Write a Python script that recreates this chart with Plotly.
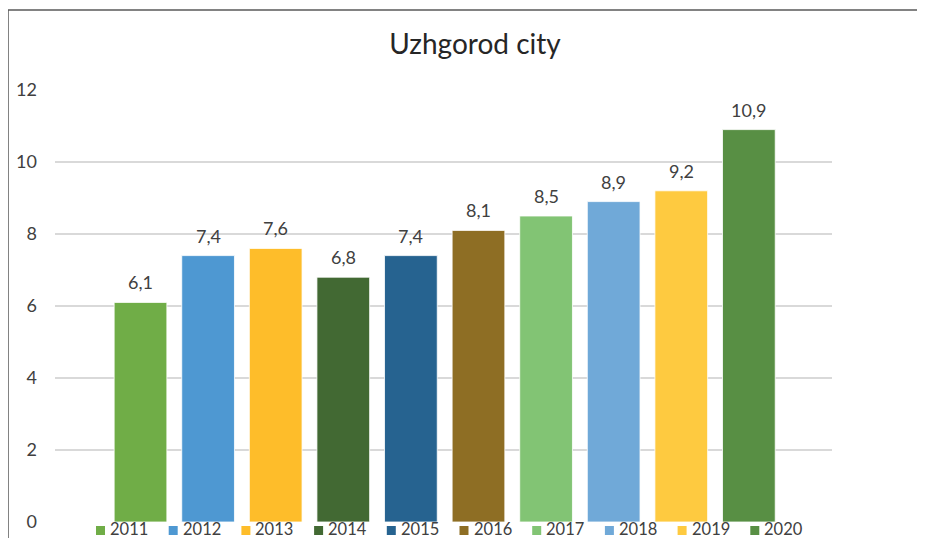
import plotly.graph_objects as go

years = ["2011", "2012", "2013", "2014", "2015", "2016", "2017", "2018", "2019", "2020"]
values = [6.1, 7.4, 7.6, 6.8, 7.4, 8.1, 8.5, 8.9, 9.2, 10.9]
colors = ["#70AD47", "#4E98D2", "#FEBD2A", "#426933", "#266390",
          "#8E6E24", "#82C474", "#70A9D8", "#FECA40", "#588F44"]
y_ticks = [0, 2, 4, 6, 8, 10, 12]

FONT = "Lato"
OFF = 8  # page body margin offset
W, H = 925, 538
ML, MR, MT, MB = 55 - OFF, 925 - (832 - OFF), 90 - OFF, 538 - (522 - OFF)
pw, ph = W - ML - MR, H - MT - MB
plot_bottom = H - MB


def px_x(px):
    return (px - ML) / pw


def px_y(py):
    return (plot_bottom - py) / ph


fig = go.Figure()
for i, (yr, v, c) in enumerate(zip(years, values, colors)):
    fig.add_trace(go.Bar(
        x=[i], y=[v], name=yr, width=0.78, showlegend=False,
        marker=dict(color=c, line=dict(color="rgba(255,255,255,0.8)", width=1)),
        hoverinfo="skip",
    ))
    fig.add_annotation(
        x=i, y=v, text=f"{v:.1f}".replace(".", ","), showarrow=False,
        yanchor="bottom", yshift=7, xref="x", yref="y",
        font=dict(family=FONT, size=18, color="#404040"),
    )
    # legend entry (swatch + label)
    sx = (96 - OFF) + 72.7 * i
    fig.add_shape(type="rect", xref="paper", yref="paper",
                  x0=px_x(sx), x1=px_x(sx + 9),
                  y0=px_y(535 - OFF), y1=px_y(526 - OFF),
                  line=dict(width=0), fillcolor=c)
    fig.add_annotation(
        x=px_x(sx + 13), y=px_y(528.5 - OFF), xref="paper", yref="paper",
        text=yr, showarrow=False, xanchor="left", yanchor="middle", borderpad=0,
        font=dict(family=FONT, size=16.5, color="#404040"),
    )

# chart border (left and top visible)
fig.add_shape(type="rect", xref="paper", yref="paper",
              x0=px_x(8 - OFF), x1=px_x(960),
              y0=px_y(580), y1=px_y(10 - OFF),
              line=dict(color="#595959", width=1.5), fillcolor="rgba(0,0,0,0)", layer="below")

fig.update_layout(
    width=W, height=H,
    margin=dict(l=ML, r=MR, t=MT, b=MB, autoexpand=False),
    paper_bgcolor="white", plot_bgcolor="white",
    barmode="overlay",
    showlegend=False,
    title=dict(text="Uzhgorod city", x=(475 - OFF) / W, xref="container", xanchor="center",
               y=1 - (44 - OFF) / H, yref="container", yanchor="middle",
               font=dict(family=FONT, size=28, color="#262626")),
    xaxis=dict(range=[-1.265, 10.23], showticklabels=False, showgrid=False,
               zeroline=False, showline=False, fixedrange=True),
    yaxis=dict(range=[0, 12], tickvals=y_ticks, ticktext=[str(t) for t in y_ticks],
               showgrid=True, gridcolor="#D9D9D9", gridwidth=1.5, zeroline=False,
               showline=False, ticks="", ticklabelstandoff=17,
               tickfont=dict(family=FONT, size=18, color="#404040"), fixedrange=True),
)

fig.write_html("out.html")
